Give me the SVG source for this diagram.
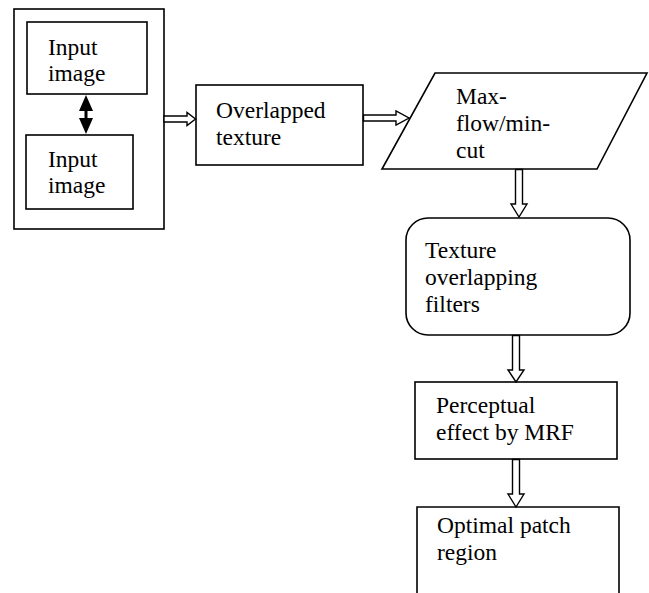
<svg xmlns="http://www.w3.org/2000/svg" width="649" height="593" viewBox="0 0 649 593">
  <style>
    .box { fill: #fff; stroke: #000; stroke-width: 1.6; }
    .lbl { font-family: "Liberation Serif", "Times New Roman", serif; font-size: 23.5px; fill: #000; }
    .blk { fill: #fff; stroke: #000; stroke-width: 1.4; stroke-linejoin: miter; }
  </style>
  <rect width="649" height="593" fill="#fff"/>

  <g id="input-group">
    <rect class="box" x="14" y="9" width="150" height="220"/>
  </g>
  <g id="input-image-1">
    <rect class="box" x="27" y="22" width="120" height="72"/>
    <text class="lbl" x="48" y="55">Input</text>
    <text class="lbl" x="48" y="81">image</text>
  </g>
  <g id="input-image-2">
    <rect class="box" x="26" y="135" width="107" height="74"/>
    <text class="lbl" x="48" y="167">Input</text>
    <text class="lbl" x="48" y="193">image</text>
  </g>
  <g id="overlapped-texture">
    <rect class="box" x="196" y="85" width="167" height="80"/>
    <text class="lbl" x="216" y="118">Overlapped</text>
    <text class="lbl" x="216" y="145">texture</text>
  </g>
  <g id="max-flow-min-cut">
    <polygon class="box" points="435,73 647,73 597,169 382,169"/>
    <text class="lbl" x="456" y="104">Max-</text>
    <text class="lbl" x="456" y="131">flow/min-</text>
    <text class="lbl" x="456" y="158">cut</text>
  </g>
  <g id="texture-overlapping-filters">
    <rect class="box" x="406" y="218" width="224" height="117" rx="22" ry="22"/>
    <text class="lbl" x="425" y="258">Texture</text>
    <text class="lbl" x="425" y="285">overlapping</text>
    <text class="lbl" x="425" y="312">filters</text>
  </g>
  <g id="perceptual-effect">
    <rect class="box" x="415" y="382" width="202" height="77"/>
    <text class="lbl" x="436" y="413">Perceptual</text>
    <text class="lbl" x="436" y="440">effect by MRF</text>
  </g>
  <g id="optimal-patch-region">
    <path class="box" d="M417,594 V507 H619 V594"/>
    <text class="lbl" x="437" y="533">Optimal patch</text>
    <text class="lbl" x="437" y="560">region</text>
  </g>

  <g id="connectors">
    <!-- two-headed solid arrow between the input images -->
    <rect x="84.5" y="108" width="3" height="14" fill="#000"/>
    <polygon points="86,95 93,111 79,111" fill="#000"/>
    <polygon points="86,134 93,118 79,118" fill="#000"/>
    <!-- hollow block arrows -->
    <polygon class="blk" points="164,116 187,116 187,112.5 195.5,119 187,125.5 187,122 164,122"/>
    <polygon class="blk" points="363.5,115 396,115 396,111 409,118 396,125 396,121 363.5,121"/>
    <polygon class="blk" points="515.5,169.5 515.5,204 511,204 519,217 527,204 522.5,204 522.5,169.5"/>
    <polygon class="blk" points="512.5,335.5 512.5,370 508,370 516,382 524,370 519.5,370 519.5,335.5"/>
    <polygon class="blk" points="512.5,459.5 512.5,494 508,494 516,507 524,494 519.5,494 519.5,459.5"/>
  </g>
</svg>
